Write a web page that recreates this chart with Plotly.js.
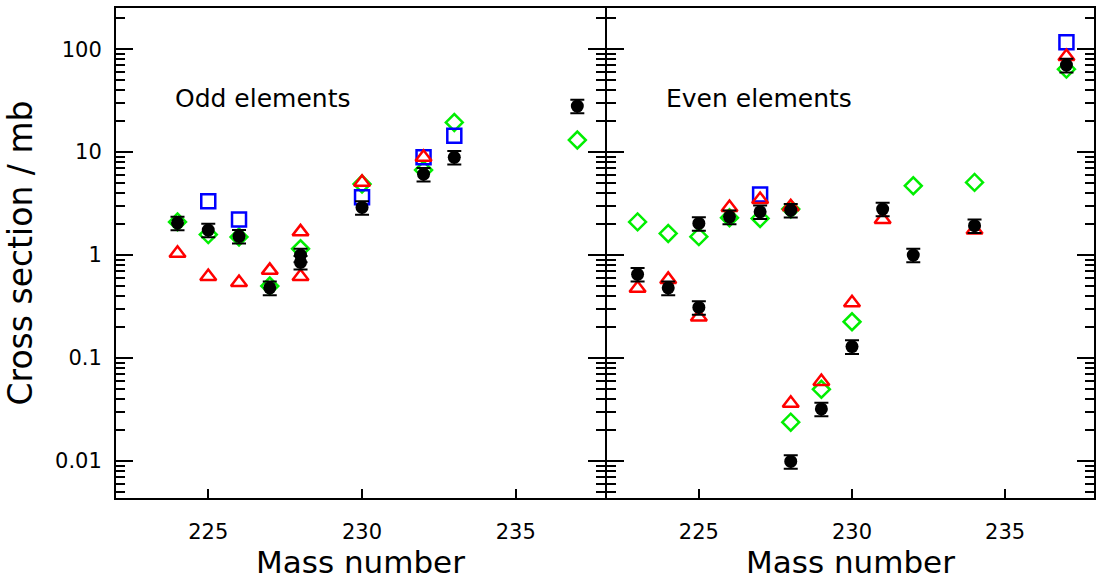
<!DOCTYPE html>
<html>
<head>
<meta charset="utf-8">
<script src="https://cdn.plot.ly/plotly-3.0.1.min.js"></script>
<style>html,body{margin:0;padding:0;background:#fff;}#chart{width:1096px;height:585px;}</style>
</head>
<body>
<div id="chart"></div>
<script>
// ---- Odd elements (left panel) ----
const oddBlackA = [224, 225, 226, 227, 228, 228, 230, 232, 233, 237];
const oddBlackV = [2.05, 1.75, 1.52, 0.48, 1.0, 0.85, 2.9, 6.1, 8.9, 28];
const oddRedA   = [224, 225, 226, 227, 228, 228, 230, 232];
const oddRedV   = [1.04, 0.62, 0.54, 0.71, 1.68, 0.62, 5.1, 8.9];
const oddBlueA  = [225, 226, 230, 232, 233];
const oddBlueV  = [3.34, 2.22, 3.65, 8.9, 14.4];
const oddGreenA = [224, 225, 226, 227, 228, 230, 232, 233, 237];
const oddGreenV = [2.1, 1.58, 1.5, 0.5, 1.15, 4.9, 6.7, 19.4, 13.1];

// ---- Even elements (right panel) ----
const evenBlackA = [223, 224, 225, 225, 226, 227, 228, 228, 229, 230, 231, 232, 234, 237];
const evenBlackV = [0.65, 0.48, 2.03, 0.31, 2.35, 2.63, 2.73, 0.0099, 0.032, 0.129, 2.8, 1.0, 1.93, 70];
const evenRedA   = [223, 224, 225, 226, 227, 228, 228, 229, 230, 231, 234, 237];
const evenRedV   = [0.475, 0.58, 0.25, 2.9, 3.47, 2.94, 0.0363, 0.059, 0.344, 2.22, 1.75, 85];
const evenBlueA  = [227, 237];
const evenBlueV  = [3.88, 117];
const evenGreenA = [223, 224, 225, 226, 227, 228, 228, 229, 230, 232, 234, 237];
const evenGreenV = [2.1, 1.62, 1.51, 2.3, 2.27, 2.8, 0.0238, 0.0497, 0.225, 4.71, 5.08, 64];

const errPercent = 15;

const xTicks = [225, 230, 235];
const panelLabels = ["Odd elements", "Even elements"];
const xTitle = "Mass number";
const yTitle = "Cross section / mb";

const FONT = "DejaVu Sans, sans-serif";

function green(x, y, xa, ya) {
  return {x: x, y: y, xaxis: xa, yaxis: ya, type: 'scatter', mode: 'markers',
    marker: {symbol: 'diamond-open', size: 13, color: '#00ee00', line: {width: 2.5, color: '#00ee00'}}};
}
function blue(x, y, xa, ya) {
  return {x: x, y: y, xaxis: xa, yaxis: ya, type: 'scatter', mode: 'markers',
    marker: {symbol: 'square-open', size: 14, color: '#0000ff', line: {width: 2.5, color: '#0000ff'}}};
}
function red(x, y, xa, ya) {
  return {x: x, y: y, xaxis: xa, yaxis: ya, type: 'scatter', mode: 'markers',
    marker: {symbol: 'triangle-up-open', size: 14, color: '#ff0000', line: {width: 2.5, color: '#ff0000'}}};
}
function black(x, y, xa, ya) {
  return {x: x, y: y, xaxis: xa, yaxis: ya, type: 'scatter', mode: 'markers',
    marker: {symbol: 'circle', size: 13, color: '#000000'},
    error_y: {type: 'percent', value: errPercent, color: '#000000', thickness: 2, width: 7}};
}

const data = [
  green(oddGreenA, oddGreenV, 'x', 'y'),
  blue(oddBlueA, oddBlueV, 'x', 'y'),
  red(oddRedA, oddRedV, 'x', 'y'),
  black(oddBlackA, oddBlackV, 'x', 'y'),
  green(evenGreenA, evenGreenV, 'x2', 'y2'),
  blue(evenBlueA, evenBlueV, 'x2', 'y2'),
  red(evenRedA, evenRedV, 'x2', 'y2'),
  black(evenBlackA, evenBlackV, 'x2', 'y2')
];

function xAxis(domain, anchor) {
  return {
    domain: domain, anchor: anchor, range: [222, 237.9],
    tickmode: 'array', tickvals: xTicks,
    ticks: 'inside', ticklen: 9, tickwidth: 2, tickcolor: '#000',
    showline: true, linewidth: 2, linecolor: '#000', mirror: true,
    showgrid: false, zeroline: false,
    tickfont: {family: FONT, size: 21, color: '#000'},
    ticklabelstandoff: 14,
    title: {text: xTitle, font: {family: FONT, size: 31, color: '#000'}, standoff: 6}
  };
}
function yAxis(anchor, labels) {
  return {
    anchor: anchor, type: 'log', range: [-2.36, 2.40], domain: [0, 1],
    dtick: 1, ticks: 'inside', ticklen: 17, tickwidth: 2, tickcolor: '#000',
    minor: {ticks: 'inside', ticklen: 9, tickwidth: 2, tickcolor: '#000', dtick: 'D1', showgrid: false},
    showline: true, linewidth: 2, linecolor: '#000', mirror: 'ticks',
    showgrid: false, zeroline: false, showticklabels: labels,
    tickfont: {family: FONT, size: 21, color: '#000'},
    ticklabelstandoff: 8
  };
}

const layout = {
  width: 1096, height: 585,
  margin: {l: 116, r: 2, t: 8, b: 87},
  paper_bgcolor: '#fff', plot_bgcolor: '#fff',
  showlegend: false,
  font: {family: FONT, color: '#000'},
  xaxis: xAxis([0, 0.5], 'y'),
  xaxis2: xAxis([0.502, 1], 'y2'),
  yaxis: Object.assign(yAxis('x', true), {
    title: {text: yTitle, font: {family: FONT, size: 33, color: '#000'}, standoff: 12}
  }),
  yaxis2: yAxis('x2', false),
  annotations: [
    {text: panelLabels[0], xref: 'paper', yref: 'paper', x: 0.058, y: 0.816, xanchor: 'left', yanchor: 'middle',
     showarrow: false, font: {family: FONT, size: 25, color: '#000'}},
    {text: panelLabels[1], xref: 'paper', yref: 'paper', x: 0.560, y: 0.816, xanchor: 'left', yanchor: 'middle',
     showarrow: false, font: {family: FONT, size: 25, color: '#000'}}
  ]
};

Plotly.newPlot('chart', data, layout, {staticPlot: true, displayModeBar: false});
</script>
</body>
</html>
